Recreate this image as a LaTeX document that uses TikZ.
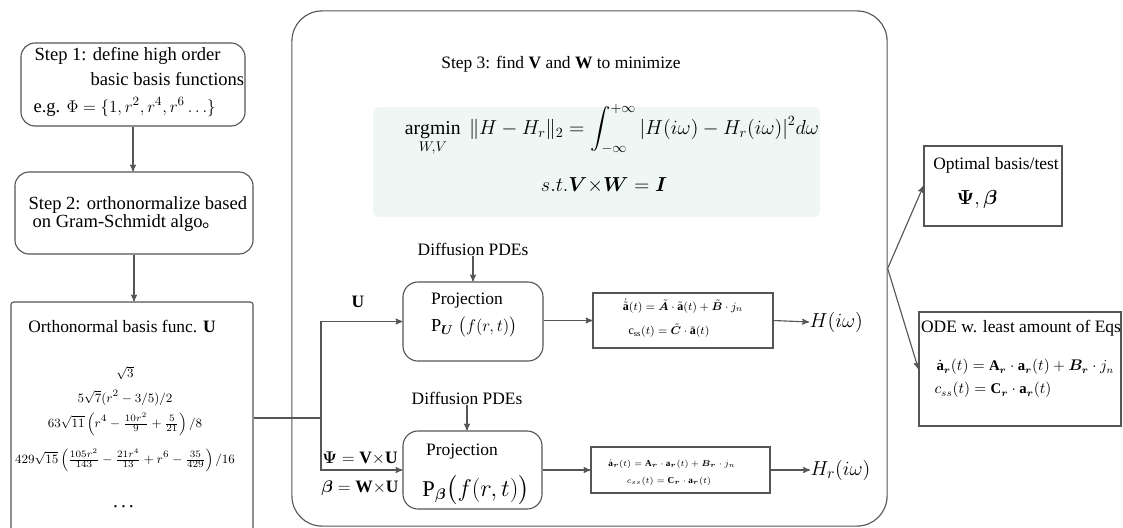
\documentclass[tikz,border=0pt]{standalone}
\usepackage{amsmath}
\usepackage{bm}
\usepackage{fontspec}
\setmainfont{Liberation Serif}
\newfontfamily\cjk{Noto Sans CJK SC}
\usepackage{tikz}
\usetikzlibrary{arrows}

\definecolor{linegray}{RGB}{85,85,85}
\definecolor{mintfill}{RGB}{238,247,243}

\begin{document}
\begin{tikzpicture}[x=0.025cm,y=-0.025cm,>=stealth',line width=0.8pt,
    stepbox/.style={draw=linegray, rounded corners=10pt, inner sep=0pt},
    framebox/.style={draw=linegray, inner sep=0pt},
    txt/.style={font=\fontsize{12.4}{14}\selectfont, inner sep=0pt},
    bigtxt/.style={font=\fontsize{13.2}{15}\selectfont, inner sep=0pt},
    link/.style={->, draw=linegray}]

\useasboundingbox (0,0) rectangle (1123,527);

% left column
\node[stepbox, minimum width=5.6cm, minimum height=2.075cm] (step1) at (133,84.5) {};
\node[bigtxt, anchor=west] (s1a) at (34,56) {Step 1: define high order};
\node[bigtxt, anchor=west] (s1b) at (90,79) {basic basis functions};
\node[bigtxt, anchor=west] (s1c) at (33,107) {e.g. $\Phi=\{1,r^2,r^4,r^6\ldots\}$};

\node[stepbox, minimum width=5.95cm, minimum height=2.05cm] (step2) at (134,213) {};
\node[bigtxt, anchor=west] (s2a) at (28,205) {Step 2: orthonormalize based};
\node[bigtxt, anchor=west] (s2b) at (32,223) {on Gram-Schmidt algo{\cjk 。}};

\node[framebox, rounded corners=2pt, minimum width=6.05cm, minimum height=6.5cm] (ortho) at (132,432) {};
\node[txt] (orthotitle) at (122,326) {Orthonormal basis func. \textbf{U}};
\node[inner sep=0pt, font=\fontsize{9.5}{11}\selectfont] (u1) at (125,373) {$\sqrt{3}$};
\node[inner sep=0pt, font=\fontsize{9.5}{11}\selectfont] (u2) at (125,398) {$5\sqrt{7}(r^2-3/5)/2$};
\node[inner sep=0pt, font=\fontsize{9.5}{11}\selectfont] (u3) at (125,424) {$63\sqrt{11}\left(r^4-\frac{10r^2}{9}+\frac{5}{21}\right)/8$};
\node[inner sep=0pt, font=\fontsize{9.5}{11}\selectfont] (u4) at (125,460) {$429\sqrt{15}\left(\frac{105r^2}{143}-\frac{21r^4}{13}+r^6-\frac{35}{429}\right)/16$};
\node[inner sep=0pt, font=\fontsize{11}{12}\selectfont] (u5) at (125,507) {$\bm{\cdots}$};

\draw[link] (step1.south) -- (step1.south |- step2.north);
\draw[link] (step2.south) -- (step2.south |- ortho.north);

% step 3
\node[framebox, rounded corners=0.75cm, minimum width=14.875cm, minimum height=12.875cm] (big) at (589.5,268.5) {};
\node[txt] (title3) at (561,64) {Step 3: find \textbf{V} and \textbf{W} to minimize};
\node[fill=mintfill, rounded corners=4pt, minimum width=11.175cm, minimum height=2.75cm] (goal) at (596.5,162) {};
\node[inner sep=0pt, font=\fontsize{14}{16}\selectfont] (goal1) at (612,130) {$\displaystyle\operatorname*{argmin}_{W,V}\ \|H-H_r\|_2=\int_{-\infty}^{+\infty}|H(i\omega)-H_r(i\omega)|^2d\omega$};
\node[inner sep=0pt, font=\fontsize{14}{16}\selectfont] (goal2) at (604,185) {$s.t.\bm{V}{\times}\bm{W}=\bm{I}$};

\node[txt] (pde1) at (473,249) {Diffusion PDEs};
\node[stepbox, rounded corners=0.375cm, minimum width=3.5cm, minimum height=1.975cm] (proj1) at (473,321.5) {};
\node[txt] (proj1a) at (467,301) {Projection};
\node[inner sep=0pt, font=\fontsize{13}{15}\selectfont] (proj1b) at (474,327) {$\mathrm{P}_{\bm U}\ \bigl(f(r,t)\bigr)$};
\node[framebox, minimum width=4.5cm, minimum height=1.375cm] (eq1) at (683,320.5) {};
\node[inner sep=0pt, font=\fontsize{8.5}{10}\selectfont] (eq1a) at (683,306) {$\dot{\tilde{\mathbf{a}}}(t)=\tilde{\bm A}\cdot\tilde{\mathbf a}(t)+\tilde{\bm B}\cdot j_n$};
\node[inner sep=0pt, font=\fontsize{8.5}{10}\selectfont] (eq1b) at (669,331) {$\mathrm{c}_{\mathrm{ss}}(t)=\tilde{\bm C}\cdot\tilde{\mathbf a}(t)$};
\node[inner sep=0pt, font=\fontsize{15}{17}\selectfont, anchor=west] (h1) at (809,322) {$H(i\omega)$};

\node[txt] (pde2) at (467,398) {Diffusion PDEs};
\node[stepbox, rounded corners=0.375cm, minimum width=3.475cm, minimum height=1.95cm] (proj2) at (472.5,470) {};
\node[txt] (proj2a) at (462,452) {Projection};
\node[inner sep=0pt, font=\fontsize{16}{18}\selectfont] (proj2b) at (476,490) {$\mathrm{P}_{\bm\beta}\bigl(f(r,t)\bigr)$};
\node[framebox, minimum width=4.475cm, minimum height=1.15cm] (eq2) at (680.5,470) {};
\node[inner sep=0pt, font=\fontsize{6.5}{8}\selectfont] (eq2a) at (672,464) {$\dot{\mathbf a}_{\bm r}(t)=\mathbf A_{\bm r}\cdot\mathbf a_{\bm r}(t)+\bm B_{\bm r}\cdot j_n$};
\node[inner sep=0pt, font=\fontsize{6.5}{8}\selectfont] (eq2b) at (669,481) {$c_{ss}(t)=\mathbf C_{\bm r}\cdot\mathbf a_{\bm r}(t)$};
\node[inner sep=0pt, font=\fontsize{15}{17}\selectfont, anchor=west] (h2) at (810,470) {$H_r(i\omega)$};

\node[txt] (lu) at (358,302) {$\mathbf{U}$};
\node[txt] (lpsi) at (360,458) {$\bm{\Psi}=\mathbf{V}{\times}\mathbf{U}$};
\node[txt] (lbeta) at (360,488) {$\bm{\beta}=\mathbf{W}{\times}\mathbf{U}$};

\coordinate (split) at (321,418);
\draw[draw=linegray] (ortho.east |- split) -- (split);
\draw[link] (split) |- (proj1.west);
\draw[link] (split) |- (proj2.west);
\draw[link] (pde1.south) -- (proj1.north);
\draw[link] (pde2.south) -- (pde2.south |- proj2.north);
\draw[link] (proj1.east |- eq1.west) -- (eq1.west);
\draw[link] (eq1.east) -- (h1.west);
\draw[link] (proj2.east) -- (eq2.west);
\draw[link] (eq2.east) -- (h2.west);

% results
\node[framebox, minimum width=3.45cm, minimum height=2cm] (opt) at (993,186) {};
\node[txt] (opta) at (996,165) {Optimal basis/test};
\node[inner sep=0pt, font=\fontsize{14}{16}\selectfont] (optb) at (977,199) {$\bm{\Psi},\bm{\beta}$};
\node[framebox, minimum width=5.05cm, minimum height=2.85cm] (ode) at (1020,369) {};
\node[txt] (odea) at (1021,328) {ODE w. least amount of Eqs};
\node[inner sep=0pt, font=\fontsize{10.5}{12}\selectfont, anchor=west] (odeb) at (936,367) {$\dot{\mathbf a}_{\bm r}(t)=\mathbf A_{\bm r}\cdot\mathbf a_{\bm r}(t)+\bm B_{\bm r}\cdot j_n$};
\node[inner sep=0pt, font=\fontsize{10.5}{12}\selectfont, anchor=west] (odec) at (934,390) {$c_{ss}(t)=\mathbf C_{\bm r}\cdot\mathbf a_{\bm r}(t)$};

\draw[link] (big.east) -- (opt.west);
\draw[link] (big.east) -- (ode.west);
\end{tikzpicture}
\end{document}
